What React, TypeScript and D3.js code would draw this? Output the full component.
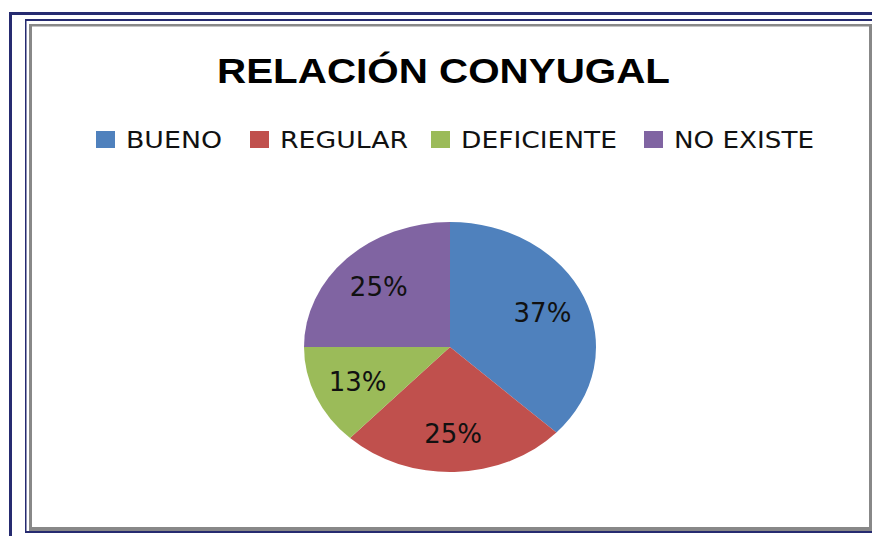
import React from "react";
import * as d3 from "d3";

const title = "RELACIÓN CONYUGAL";
const categories = ["BUENO", "REGULAR", "DEFICIENTE", "NO EXISTE"];
const values = [37, 25, 13, 25];
const colors = ["#4F81BD", "#C0504D", "#9BBB59", "#8064A2"];
const legendTextLengths = [96, 128, 156, 140];
const legendX = [96, 250, 431, 644];

const W = 872;
const H = 536;

export default function App() {
  const cx = 450;
  const cy = 347;
  const rx = 146;
  const ry = 125;
  const total = d3.sum(values);
  const pie = d3.pie<number>().sort(null).value((d) => d)(values);
  const arc = d3.arc<d3.PieArcDatum<number>>().innerRadius(0).outerRadius(rx);
  const labelR = 0.69;
  const navy = "#262B70";
  const gray = "#888888";

  return (
    <svg
      width={W}
      height={H}
      style={{ position: "absolute", left: 0, top: 0, background: "#fff" }}
    >
      {/* outer navy lines */}
      <rect x={9} y={12} width={3} height={H - 12} fill={navy} />
      <rect x={9} y={12} width={W - 9} height={3} fill={navy} />
      {/* second navy frame */}
      <rect x={25} y={19} width={1.5} height={514} fill={navy} />
      <rect x={25} y={19} width={W - 25} height={2} fill={navy} />
      <rect x={25} y={531} width={W - 25} height={2} fill={navy} />
      {/* gray frame */}
      <rect x={29} y={24} width={3} height={507} fill={gray} />
      <rect x={29} y={24} width={W - 29} height={2.5} fill={gray} />
      <rect x={869} y={24} width={3} height={507} fill={gray} />
      <rect x={29} y={527} width={W - 29} height={4} fill={gray} />

      {/* title */}
      <text
        x={217}
        y={83}
        fontFamily="'Liberation Sans', Arial, sans-serif"
        fontWeight="bold"
        fontSize={35}
        textLength={453}
        lengthAdjust="spacingAndGlyphs"
        fill="#000"
      >
        {title}
      </text>

      {/* legend */}
      {categories.map((c, i) => (
        <g key={c}>
          <rect x={legendX[i]} y={131} width={19} height={17} fill={colors[i]} />
          <text
            x={legendX[i] + 30}
            y={147.5}
            fontFamily="'DejaVu Sans', sans-serif"
            fontSize={23}
            textLength={legendTextLengths[i]}
            lengthAdjust="spacingAndGlyphs"
            fill="#111"
          >
            {c}
          </text>
        </g>
      ))}

      {/* pie */}
      <g transform={`translate(${cx},${cy}) scale(1,${ry / rx})`}>
        {pie.map((d, i) => (
          <path key={i} d={arc(d) || ""} fill={colors[i]} />
        ))}
      </g>
      {pie.map((d, i) => {
        const a = (d.startAngle + d.endAngle) / 2;
        const x = cx + Math.sin(a) * rx * labelR;
        const y = cy - Math.cos(a) * ry * labelR;
        return (
          <text
            key={"l" + i}
            x={x}
            y={y + 9.5}
            textAnchor="middle"
            fontFamily="'DejaVu Sans', sans-serif"
            fontSize={26}
            fill="#111"
          >
            {`${Math.round((d.data / total) * 100)}%`}
          </text>
        );
      })}
    </svg>
  );
}
